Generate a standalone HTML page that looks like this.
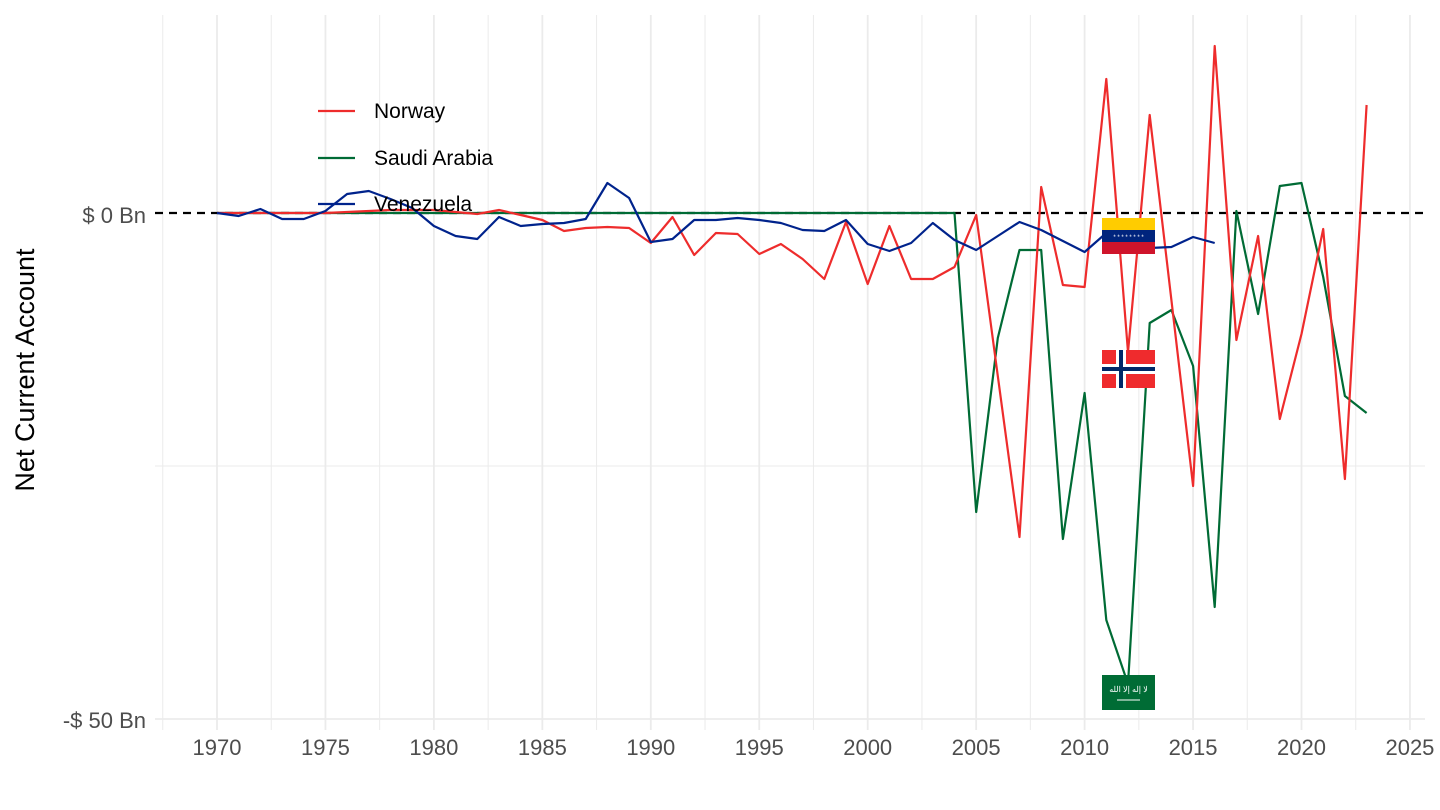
<!DOCTYPE html>
<html><head><meta charset="utf-8"><style>
html,body{margin:0;padding:0;background:#fff;}
svg{display:block;font-family:"Liberation Sans",Arial,sans-serif;}
</style></head><body>
<svg id="s" width="1440" height="810" viewBox="0 0 1440 810" xmlns="http://www.w3.org/2000/svg">
<rect width="1440" height="810" fill="#fff"/>
<g id="grid"></g>
<line x1="155" y1="213" x2="1425" y2="213" stroke="#000" stroke-width="2.2" stroke-dasharray="8,6"/>
<g id="lines" fill="none" stroke-width="2.2" stroke-linejoin="round"></g>
<g>
<rect x="1102" y="218" width="53" height="12" fill="#FFCC00"/>
<rect x="1102" y="230" width="53" height="12" fill="#00247D"/>
<rect x="1102" y="242" width="53" height="12" fill="#CF142B"/>
<text x="1128.5" y="239" font-size="6" fill="#fff" text-anchor="middle">* * * * * * * *</text>
<rect x="1102" y="350" width="53" height="38" fill="#EF2B2D"/>
<rect x="1116" y="350" width="10" height="38" fill="#fff"/>
<rect x="1102" y="364" width="53" height="10" fill="#fff"/>
<rect x="1119" y="350" width="4" height="38" fill="#002868"/>
<rect x="1102" y="367" width="53" height="4" fill="#002868"/>
<rect x="1102" y="675" width="53" height="35" fill="#006C35"/>
<text x="1128.5" y="692" font-size="8" fill="#fff" text-anchor="middle">لا إله إلا الله</text>
<line x1="1117" y1="700" x2="1140" y2="700" stroke="#fff" stroke-width="1"/>
</g>
<g font-size="21" fill="#000">
<line x1="318" y1="111" x2="355" y2="111" stroke="#EE2C2C" stroke-width="2.2"/>
<text x="374" y="118">Norway</text>
<line x1="318" y1="158" x2="355" y2="158" stroke="#006B35" stroke-width="2.2"/>
<text x="374" y="165">Saudi Arabia</text>
<line x1="318" y1="204" x2="355" y2="204" stroke="#00238C" stroke-width="2.2"/>
<text x="374" y="211">Venezuela</text>
</g>
<g font-size="22" fill="#4d4d4d">
<text x="146" y="223" text-anchor="end">$ 0 Bn</text>
<text x="146" y="728" text-anchor="end">-$ 50 Bn</text>
</g>
<g id="xl" font-size="22" fill="#4d4d4d" text-anchor="middle"></g>
<text transform="translate(34,370) rotate(-90)" font-size="27" fill="#000" text-anchor="middle">Net Current Account</text>
</svg>
<script>
var X=function(y){return 217+(y-1970)*21.69;};
var g=document.getElementById('grid'),h='';
for(var y=1967.5;y<=2026;y+=2.5){var x=X(y);var maj=(y%5===0);
h+='<line x1="'+x+'" y1="15" x2="'+x+'" y2="730" stroke="#ebebeb" stroke-width="'+(maj?1.8:1)+'"/>';}
h+='<line x1="155" y1="466" x2="1425" y2="466" stroke="#ebebeb" stroke-width="1"/>';
h+='<line x1="155" y1="719" x2="1425" y2="719" stroke="#ebebeb" stroke-width="1.8"/>';
g.innerHTML=h;
var xl='';for(var y=1970;y<=2025;y+=5){xl+='<text x="'+X(y)+'" y="755">'+y+'</text>';}
document.getElementById('xl').innerHTML=xl;
function pl(start,arr,c){var p=[];for(var i=0;i<arr.length;i++)p.push(X(start+i).toFixed(1)+','+arr[i]);return '<polyline points="'+p.join(' ')+'" stroke="'+c+'"/>';}
var nor=[213,213,213,213,213,213,212,211,210,210,210,212,214,210,215,220,231,228,227,228,243,217,255,233,234,254,244,259,279,222,284,226,279,279,267,215,376,537,187,285,287,79,352,115,300,486,46,340,236,419,334,229,479,105];
var sau=[];for(var i=0;i<35;i++)sau.push(213);
sau=sau.concat([512,338,250,250,539,393,620,684,323,310,366,607,211,314,186,183,277,396,413]);
var ven=[213,216,209,219,219,211,194,191,199,208,226,236,239,217,226,224,223,219,183,198,242,239,220,220,218,220,223,230,231,220,244,251,243,223,240,250,236,222,230,241,252,233,248,248,247,237,243];
document.getElementById('lines').innerHTML=pl(1970,sau,'#006B35')+pl(1970,nor,'#EE2C2C')+pl(1970,ven,'#00238C');
</script>
</body></html>
